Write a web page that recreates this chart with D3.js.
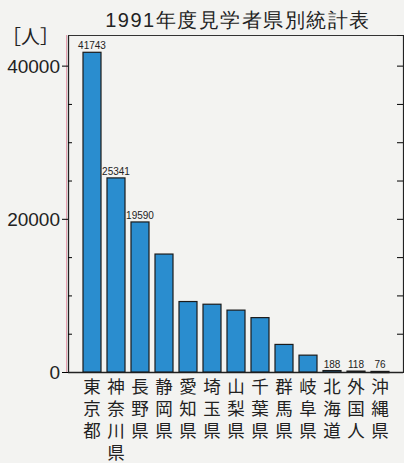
<!DOCTYPE html>
<html lang="ja">
<head>
<meta charset="utf-8">
<title>1991年度見学者県別統計表</title>
<script src="https://d3js.org/d3.v7.min.js"></script>
<style>
  body { margin: 0; background: #f3f3f1; }
  svg { display: block; }
  .num { font-family: "Liberation Sans", Arial, sans-serif; fill: #222; }
  .jp { font-family: "Noto Sans CJK JP", sans-serif; fill: #222; }
</style>
</head>
<body>
<div id="chart"></div>
<script>
// data
const prefectures = ["東京都", "神奈川県", "長野県", "静岡県", "愛知県", "埼玉県", "山梨県",
                     "千葉県", "群馬県", "岐阜県", "北海道", "外国人", "沖縄県"];
const visitors = [41743, 25341, 19590, 15400, 9200, 8850, 8080, 7100, 3600, 2200, 188, 118, 76];
const labelled = [0, 1, 2, 10, 11, 12]; // bars that carry a value label
const majorTicks = [0, 20000, 40000];
const minorTicks = [5000, 10000, 15000, 25000, 30000, 35000];

const W = 404, H = 463;
const plotL = 68, plotR = 403, plotT = 35, plotB = 372;

const svg = d3.select("#chart").append("svg")
    .attr("width", W).attr("height", H);

const y = d3.scaleLinear().domain([0, 44000]).range([plotB, plotT]);
const x = d3.scaleBand().domain(d3.range(prefectures.length))
    .range([77, 395]).paddingInner(0.25).paddingOuter(0.25);

// title + unit
svg.append("text").attr("class", "num")
    .attr("x", 238).attr("y", 27).attr("text-anchor", "middle")
    .style("font-size", "20px").style("letter-spacing", "1.5px")
    .text("1991年度見学者県別統計表");
svg.append("text").attr("class", "jp")
    .attr("x", 2).attr("y", 44)
    .style("font-size", "19px")
    .text("［人］");

// frame
svg.append("line").attr("x1", plotL).attr("x2", plotR).attr("y1", plotT + 0.5).attr("y2", plotT + 0.5)
    .attr("stroke", "#333").attr("stroke-width", 1.2);
svg.append("line").attr("x1", plotL).attr("x2", plotR).attr("y1", plotB + 0.5).attr("y2", plotB + 0.5)
    .attr("stroke", "#222").attr("stroke-width", 1.4);
svg.append("line").attr("x1", plotL - 1.5).attr("x2", plotL - 1.5).attr("y1", plotT).attr("y2", plotB)
    .attr("stroke", "#e6a0b0").attr("stroke-width", 1);

// left axis, major ticks outward with labels
const yAxis = svg.append("g").attr("transform", `translate(${plotL},0)`)
    .call(d3.axisLeft(y).tickValues(majorTicks).tickFormat(d3.format("d"))
        .tickSize(6).tickPadding(2).tickSizeOuter(0));
yAxis.select(".domain").attr("stroke", "#222").attr("stroke-width", 1.3);
yAxis.selectAll("text").attr("class", "num").attr("fill", "#222")
    .style("font-size", "19px").attr("dy", "0.36em");
// minor ticks inward
svg.append("g").attr("transform", `translate(${plotL},0)`)
    .call(d3.axisRight(y).tickValues(minorTicks).tickSize(4).tickFormat(""))
    .call(g => g.select(".domain").remove());

// right axis, ticks pointing inward
svg.append("g").attr("transform", `translate(${plotR},0)`)
    .call(d3.axisLeft(y).tickValues(majorTicks.concat(minorTicks).filter(d => d > 0))
        .tickSize(6).tickFormat(""))
    .call(g => g.select(".domain").attr("stroke", "#222").attr("stroke-width", 1.2));

// bars
svg.append("g").selectAll("rect").data(visitors).join("rect")
    .attr("x", (d, i) => x(i))
    .attr("y", d => y(d))
    .attr("width", x.bandwidth())
    .attr("height", d => Math.max(1.2, plotB - y(d)))
    .attr("fill", "#2a8dcf")
    .attr("stroke", "#1b1b1b")
    .attr("stroke-width", 1.2);

// value labels
svg.append("g").selectAll("text").data(labelled).join("text")
    .attr("class", "num")
    .attr("x", i => x(i) + x.bandwidth() / 2)
    .attr("y", i => y(visitors[i]) - 3)
    .attr("text-anchor", "middle")
    .style("font-size", "10px")
    .text(i => visitors[i]);

// category labels, written vertically (one text, one tspan per character)
const cat = svg.append("g").selectAll("text").data(prefectures).join("text")
    .attr("class", "jp")
    .attr("x", (d, i) => x(i) + x.bandwidth() / 2)
    .attr("y", 392.5)
    .attr("text-anchor", "middle")
    .style("font-size", "17.5px");
cat.selectAll("tspan").data(d => Array.from(d)).join("tspan")
    .attr("x", function () { return this.parentNode.getAttribute("x"); })
    .attr("dy", (c, j) => j === 0 ? 0 : 22)
    .text(c => c);
</script>
</body>
</html>
